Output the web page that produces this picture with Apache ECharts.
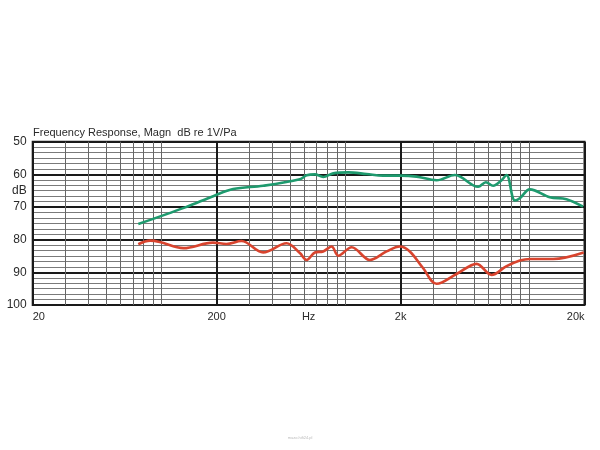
<!DOCTYPE html>
<html>
<head>
<meta charset="utf-8">
<script src="https://cdn.jsdelivr.net/npm/echarts@6/dist/echarts.min.js"></script>
<style>html,body{margin:0;padding:0;background:#fff}#c{width:600px;height:450px}</style>
</head>
<body>
<div id="c"></div>
<script>
// Frequencies (Hz) and levels (dB)
const greenFreq = [75, 135, 193, 246, 358, 567, 617, 684, 759, 861, 1038, 1307, 1608, 2000, 2443, 3140, 3947, 5280, 5820, 6370, 7080, 7535, 8360, 8900, 10090, 12970, 15960, 19650];
const greenDb   = [75.2, 70.1, 66.6, 64.5, 63.5, 61.5, 60.3, 60.0, 60.8, 59.7, 59.4, 59.9, 60.4, 60.4, 60.7, 61.8, 60.2, 63.8, 62.4, 63.5, 61.8, 60.2, 68.0, 67.3, 64.6, 67.0, 67.6, 69.9];
const redFreq = [75, 87, 98, 132, 191, 226, 273, 358, 480, 567, 617, 684, 759, 843, 917, 1084, 1362, 1678, 1982, 2245, 2643, 3140, 4030, 5180, 6250, 7500, 8900, 10090, 13500, 19800];
const redDb   = [81.4, 80.3, 80.7, 82.6, 80.9, 81.3, 80.4, 83.9, 81.1, 84.1, 86.2, 83.9, 83.6, 82.1, 84.9, 82.3, 86.2, 83.6, 82.1, 83.6, 88.6, 93.5, 90.5, 87.4, 90.8, 88.2, 86.4, 85.9, 85.9, 83.9];
// Axis labels
const xDecadeLabels = ['20', '', '200', 'Hz', '2k', '', '20k'];
const minorFreqLines = [30, 40, 50, 60, 70, 80, 90, 100, 300, 400, 500, 600, 700, 800, 900, 1000, 3000, 4000, 5000, 6000, 7000, 8000, 9000, 10000];
const titleText = 'Frequency Response, Magn  dB re 1V/Pa';
const watermark = 'muzo.hifi24.pl';

const zip = (a, b) => a.map((v, i) => [v, b[i]]);
const font = 'Liberation Sans, Arial, sans-serif';

const chart = echarts.init(document.getElementById('c'), null, {renderer: 'canvas'});
chart.setOption({
  animation: false,
  backgroundColor: '#fff',
  title: {
    text: titleText, left: 33, top: 127, padding: 0,
    textStyle: {fontSize: 11, fontWeight: 'normal', color: '#2a2a2a', fontFamily: font}
  },
  graphic: [{
    type: 'text', left: 'center', top: 436,
    style: {text: watermark, fontSize: 4, fill: '#bbb', fontFamily: font}
  }],
  grid: {left: 32.7, right: 15.5, top: 141.7, bottom: 145, show: true, borderColor: '#1e1e1e', borderWidth: 2, backgroundColor: 'transparent'},
  xAxis: [{
    type: 'log', logBase: 10, min: 20, max: 20000, show: false
  }, {
    type: 'value', min: 0, max: 3, interval: 0.5, position: 'bottom',
    axisLine: {show: false}, axisTick: {show: false},
    axisLabel: {
      margin: 6, fontSize: 11, color: '#2a2a2a', fontFamily: font,
      alignMinLabel: 'left', alignMaxLabel: 'right',
      formatter: v => xDecadeLabels[Math.round(v * 2)]
    },
    splitLine: {show: true, lineStyle: {color: ['#1a1a1a', 'rgba(0,0,0,0)'], width: 2}}
  }],
  yAxis: [{
    type: 'value', inverse: true, min: 50, max: 100, interval: 5,
    axisLine: {show: false}, axisTick: {show: false},
    axisLabel: {
      margin: 6, fontSize: 12, color: '#2a2a2a', fontFamily: font,
      formatter: v => (v % 10 === 0 ? String(v) : (v === 65 ? 'dB' : ''))
    },
    splitLine: {show: true, lineStyle: {color: ['#1a1a1a', 'rgba(0,0,0,0)'], width: 2}}
  }, {
    type: 'value', inverse: true, min: 50, max: 100, interval: 10, position: 'left',
    axisLine: {show: false}, axisTick: {show: false}, axisLabel: {show: false},
    splitLine: {show: false},
    minorTick: {show: false, splitNumber: 6},
    minorSplitLine: {show: true, lineStyle: {color: '#7a7a7a', width: 1}}
  }],
  series: [{
    type: 'line', name: 'minor', xAxisIndex: 0, yAxisIndex: 0, data: [],
    silent: true,
    markLine: {
      silent: true, symbol: 'none', label: {show: false},
      lineStyle: {color: '#666', width: 1, type: 'solid'},
      data: minorFreqLines.map(f => ({xAxis: f}))
    }
  }, {
    type: 'line', name: 'green', xAxisIndex: 0, yAxisIndex: 0,
    data: zip(greenFreq, greenDb), smooth: 0.35, showSymbol: false,
    lineStyle: {color: '#1e9a6e', width: 2.6}, z: 5
  }, {
    type: 'line', name: 'red', xAxisIndex: 0, yAxisIndex: 0,
    data: zip(redFreq, redDb), smooth: 0.35, showSymbol: false,
    lineStyle: {color: '#d8442e', width: 2.6}, z: 5
  }]
});
</script>
</body>
</html>
